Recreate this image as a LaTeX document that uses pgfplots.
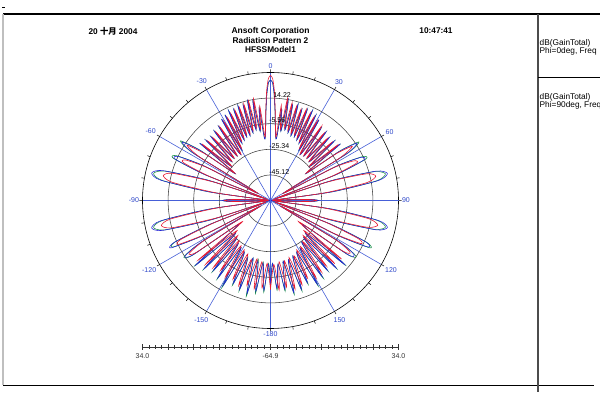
\documentclass[border=0pt]{standalone}
\usepackage{pgfplots}
\pgfplotsset{compat=1.18}
\usepackage{pgfplotstable}
\usepgfplotslibrary{polar}
\usepackage{fontspec}
\setmainfont{Liberation Sans}
\newfontfamily\cjk{Noto Sans CJK SC}
\definecolor{spoke}{RGB}{70,95,215}
\definecolor{lbl}{RGB}{45,70,200}
\definecolor{cred}{RGB}{230,25,50}
\definecolor{cblue}{RGB}{35,35,215}
\definecolor{cgreen}{RGB}{20,140,70}

% Phi = 0deg (red): angle (deg, 0 = top, clockwise), gain (dB)
\pgfplotstableread{
a d
-180 3.87
-177 -16.22
-174.5 3.09
-172 -17.0
-169.5 4.64
-167 -18.54
-164.5 3.09
-162 -17.0
-159.5 5.41
-157 -20.09
-154.5 2.32
-152 -21.63
-149.5 3.87
-147 -23.18
-144.5 1.55
-142 -25.49
-139.5 3.09
-137 -27.81
-134.5 5.41
-132 -30.13
-129.5 7.73
-127 -37.86
-125 4.64
-123 10.05
-121 -6.95
-119 -55.63
-117.5 -10.81
-115.5 13.91
-113.5 10.82
-111.5 -18.54
-110 -61.04
-108 -22.40
-105.5 13.91
-103 21.64
-100.5 13.91
-98 -22.40
-96 -62.58
-93 -55.63
-91.5 -35.54
-90 -29.36
-88.5 -35.54
-87 -55.63
-84 -62.58
-82 -22.40
-79.5 12.37
-77 20.09
-74.5 13.91
-72 -18.54
-70 -61.04
-68.5 -14.68
-66.5 8.50
-64.5 7.73
-62.5 -10.81
-60.5 -53.31
-58.5 -1.54
-56.5 12.37
-54.5 -3.09
-52.5 -30.13
-50.5 3.87
-48.5 -24.72
-46.5 1.55
-44.5 -22.40
-42.5 0.78
-40.5 -21.63
-38.5 2.32
-36.5 -21.63
-34.5 3.87
-32.5 -22.40
-30.5 5.41
-29 -18.54
-27.5 6.96
-26 -13.90
-24.5 8.50
-23 -12.36
-21.5 10.05
-20 -10.81
-18.5 10.82
-17 -10.81
-15.5 12.37
-14 -9.27
-12.5 13.91
-11 -7.72
-9.5 14.68
-8 -9.27
-6.5 8.50
-5 -15.45
-4 -9.27
-3 4.64
-2 20.09
-1 29.36
0 31.68
1 29.36
2 20.09
3 4.64
4 -9.27
5 -15.45
6.5 9.28
8 -9.27
9.5 15.46
11 -7.72
12.5 12.37
14 -9.27
15.5 10.82
17 -10.81
18.5 9.28
20 -10.81
21.5 10.82
23 -12.36
24.5 9.28
26 -13.90
27.5 7.73
29 -18.54
30.5 6.18
32.5 -22.40
34.5 4.64
36.5 -21.63
38.5 1.55
40.5 -21.63
42.5 0.0
44.5 -22.40
46.5 0.0
48.5 -24.72
50.5 3.09
52.5 -30.13
54.5 -3.09
56.5 10.82
58.5 -3.09
60.5 -53.31
62.5 -10.81
64.5 6.18
66.5 7.73
68.5 -14.68
70 -61.04
72 -18.54
74.5 12.37
77 18.55
79.5 10.82
82 -22.40
84 -62.58
87 -55.63
88.5 -35.54
90 -29.36
91.5 -35.54
93 -55.63
96 -62.58
98 -22.40
100.5 12.37
103 20.09
105.5 12.37
108 -22.40
110 -61.04
111.5 -18.54
113.5 9.28
115.5 12.37
117.5 -10.81
119 -55.63
121 -6.95
123 8.50
125 3.09
127 -37.86
129.5 6.18
132 -30.13
134.5 4.64
137 -27.81
139.5 1.55
142 -24.72
144.5 3.09
147 -22.40
149.5 4.64
152 -21.63
154.5 1.55
157 -18.54
159.5 4.64
162 -18.54
164.5 6.18
167 -17.0
169.5 3.09
172 -17.0
174.5 4.64
177 -15.45
180 3.87
}\redtab

% Phi = 90deg (blue)
\pgfplotstableread{
a d
-180 1.55
-178.2 -15.45
-175.8 4.64
-173.2 -16.22
-170.8 6.18
-168.2 -17.0
-165.8 9.28
-163.2 -18.54
-160.8 7.73
-158.2 -17.0
-155.8 5.41
-153.2 -20.09
-150.8 10.05
-148.2 -21.63
-145.8 6.96
-143.2 -23.18
-140.8 4.64
-138.2 -25.49
-135.8 8.50
-133.2 -27.81
-130.8 11.59
-127 -34.0
-125 8.50
-123 13.91
-121 -3.09
-119 -55.63
-117.5 -7.72
-115.5 20.09
-113.5 16.23
-111.5 -14.68
-110 -61.04
-108 -17.0
-105.5 21.64
-103 29.36
-100.5 21.64
-98 -17.0
-96 -62.58
-93 -55.63
-91.5 -34.0
-90 -27.81
-88.5 -34.0
-87 -55.63
-84 -62.58
-82 -17.0
-79.5 21.64
-77 29.36
-74.5 21.64
-72 -14.68
-70 -61.04
-68.5 -10.81
-66.5 15.46
-64.5 13.91
-62.5 -7.72
-60.5 -53.31
-58.5 3.87
-56.5 17.0
-54.5 0.78
-52.8 -30.13
-51 5.41
-49 -24.72
-47 3.09
-45 -22.40
-43 2.32
-41 -21.63
-39 3.87
-37 -21.63
-35 4.64
-33 -22.40
-31 8.50
-29.5 -20.09
-28 10.05
-26.5 -15.45
-25 11.59
-23.5 -13.90
-22 10.82
-20.5 -12.36
-19 12.37
-17.5 -12.36
-16 11.59
-14.5 -10.81
-13 13.91
-11.5 -9.27
-10 13.14
-8.5 -10.81
-7 6.96
-5.5 -17.0
-4 -10.81
-3 3.09
-2 17.0
-1 26.27
0 27.82
1 26.27
2 17.0
3 3.09
4 -10.81
5.5 -17.0
7 6.18
8.5 -10.81
10 13.91
11.5 -9.27
13 10.82
14.5 -10.81
16 12.37
17.5 -12.36
19 9.28
20.5 -12.36
22 10.82
23.5 -13.90
25 11.59
26.5 -15.45
28 9.28
29.5 -20.09
31 7.73
33 -22.40
35 3.09
37 -21.63
39 3.09
41 -21.63
43 1.55
45 -22.40
47 2.32
49 -24.72
51 4.64
52.8 -30.13
54.5 0.0
56.5 15.46
58.5 3.09
60.5 -53.31
62.5 -7.72
64.5 12.37
66.5 13.91
68.5 -10.81
70 -61.04
72 -14.68
74.5 20.09
77 27.82
79.5 20.09
82 -17.0
84 -62.58
87 -55.63
88.5 -34.0
90 -27.81
91.5 -34.0
93 -55.63
96 -62.58
98 -17.0
100.5 20.09
103 27.82
105.5 20.09
108 -17.0
110 -61.04
111.5 -14.68
113.5 15.46
115.5 18.55
117.5 -7.72
119 -55.63
121 -3.09
123 12.37
125 7.73
127 -34.0
130.8 10.82
133.2 -27.81
135.8 7.73
138.2 -26.27
140.8 4.64
143.2 -24.72
145.8 6.18
148.2 -21.63
150.8 9.28
153.2 -20.09
155.8 4.64
158.2 -18.54
160.8 7.73
163.2 -17.0
165.8 8.50
168.2 -17.0
170.8 4.64
173.2 -15.45
175.8 3.09
178.2 -16.22
180 1.55
}\bluetab

% third trace (green)
\pgfplotstableread{
a d
-180 3.09
-178.2 -16.22
-175.8 6.18
-173.2 -17.0
-170.8 7.73
-168.2 -18.54
-165.8 11.59
-163.2 -18.54
-160.8 9.28
-158.2 -17.77
-155.8 6.96
-153.2 -20.09
-150.8 12.37
-148.2 -21.63
-145.8 8.50
-143.2 -23.18
-140.8 6.18
-138.2 -25.49
-135.8 9.28
-133.2 -27.81
-130.8 12.37
-127 -34.0
-125 9.28
-123 14.68
-121 -3.09
-119 -55.63
-117.5 -7.72
-115.5 18.55
-113.5 15.46
-111.5 -14.68
-110 -61.04
-108 -17.0
-105.5 20.09
-103 27.82
-100.5 20.09
-98 -17.0
-96 -62.58
-93 -55.63
-91.5 -34.0
-90 -27.81
-88.5 -34.0
-87 -55.63
-84 -62.58
-82 -17.0
-79.5 20.09
-77 27.82
-74.5 20.09
-72 -14.68
-70 -61.04
-68.5 -10.81
-66.5 17.0
-64.5 15.46
-62.5 -7.72
-60.5 -53.31
-58.5 5.41
-56.5 18.55
-54.5 2.32
-52.8 -30.13
-51 5.41
-49 -24.72
-47 3.09
-45 -22.40
-43 2.32
-41 -21.63
-39 3.87
-37 -21.63
-35 4.64
-33 -22.40
-31 8.50
-29.5 -20.09
-28 10.05
-26.5 -15.45
-25 11.59
-23.5 -13.90
-22 10.82
-20.5 -12.36
-19 12.37
-17.5 -12.36
-16 11.59
-14.5 -10.81
-13 13.91
-11.5 -9.27
-10 13.14
-8.5 -10.81
-7 6.96
-5.5 -17.0
-4 -10.81
-3 3.09
-2 17.0
-1 26.27
0 27.82
1 26.27
2 17.0
3 3.09
4 -10.81
5.5 -17.0
7 6.18
8.5 -10.81
10 13.91
11.5 -9.27
13 10.82
14.5 -10.81
16 12.37
17.5 -12.36
19 9.28
20.5 -12.36
22 10.82
23.5 -13.90
25 11.59
26.5 -15.45
28 9.28
29.5 -20.09
31 7.73
33 -22.40
35 3.09
37 -21.63
39 3.09
41 -21.63
43 1.55
45 -22.40
47 2.32
49 -24.72
51 4.64
52.8 -30.13
54.5 1.55
56.5 17.0
58.5 4.64
60.5 -53.31
62.5 -7.72
64.5 13.91
66.5 15.46
68.5 -10.81
70 -61.04
72 -14.68
74.5 18.55
77 26.27
79.5 18.55
82 -17.0
84 -62.58
87 -55.63
88.5 -34.0
90 -27.81
91.5 -34.0
93 -55.63
96 -62.58
98 -17.0
100.5 18.55
103 26.27
105.5 18.55
108 -17.0
110 -61.04
111.5 -14.68
113.5 16.23
115.5 20.09
117.5 -7.72
119 -55.63
121 -3.09
123 13.91
125 8.50
127 -34.0
130.8 11.59
133.2 -27.81
135.8 8.50
138.2 -26.27
140.8 5.41
143.2 -24.72
145.8 7.73
148.2 -21.63
150.8 10.82
153.2 -20.09
155.8 6.18
158.2 -18.54
160.8 9.28
163.2 -17.0
165.8 10.05
168.2 -17.0
170.8 6.18
173.2 -15.45
175.8 4.64
178.2 -16.22
180 3.09
}\greentab

\begin{document}
\begin{tikzpicture}
\useasboundingbox (0pt,0pt) rectangle (600pt,395pt);
\begin{scope}[x=1pt,y=1pt]
  % frame
  \draw[line width=1.5pt] (3,381) -- (600,381);
  \draw[black!25,line width=1.5pt] (3,381) -- (3,10);
  \draw[line width=0.9pt] (3,10) -- (594,10);
  \draw[black!70,line width=1.1pt] (538,381) -- (538,3);
  \draw[line width=0.8pt] (538,318) -- (600,318);
  \draw[line width=0.8pt] (2,388) -- (5,388);
  % header
  \node[font=\bfseries\fontsize{8.3}{9}\selectfont] at (113,364) {20 {\cjk 十月} 2004};
  \node[font=\bfseries\fontsize{8.5}{9}\selectfont] at (270.5,364) {Ansoft Corporation};
  \node[font=\bfseries\fontsize{8.3}{9}\selectfont] at (270.5,354.5) {Radiation Pattern 2};
  \node[font=\bfseries\fontsize{8.3}{9}\selectfont] at (270.5,345) {HFSSModel1};
  \node[font=\bfseries\fontsize{8.3}{9}\selectfont] at (436,364) {10:47:41};
  % legend panel
  \begin{scope}
    \clip (538.6,0) rectangle (600,381);
    \node[anchor=west,inner sep=0pt,font=\fontsize{8.3}{9}\selectfont] at (539.5,352) {dB(GainTotal)};
    \node[anchor=west,inner sep=0pt,font=\fontsize{8.3}{9}\selectfont] at (539.5,343.5) {Phi=0deg, Freq};
    \node[anchor=west,inner sep=0pt,font=\fontsize{8.3}{9}\selectfont] at (539.5,298) {dB(GainTotal)};
    \node[anchor=west,inner sep=0pt,font=\fontsize{8.3}{9}\selectfont] at (539.5,289.5) {Phi=90deg, Freq};
  \end{scope}
  % radial scale bar
  \draw[black!80,line width=0.6pt] (142.5,48) -- (398.5,48);
  \foreach \k in {0,...,40} {
    \draw[black!80,line width=0.5pt] ({142.5+6.4*\k},46.2) -- ({142.5+6.4*\k},49.8);
  }
  \foreach \k in {0,...,10} {
    \draw[black!80,line width=0.5pt] ({142.5+25.6*\k},45) -- ({142.5+25.6*\k},51);
  }
  \node[font=\fontsize{7}{8}\selectfont,text=black!80] at (142.5,38.5) {34.0};
  \node[font=\fontsize{7}{8}\selectfont,text=black!80] at (270.5,38.5) {-64.9};
  \node[font=\fontsize{7}{8}\selectfont,text=black!80] at (398.5,38.5) {34.0};
\end{scope}

\begin{polaraxis}[
  at={(270.5pt,194.5pt)}, anchor=center,
  scale only axis, width=256pt, height=256pt,
  xmin=0, xmax=360, ymin=0, ymax=98.9,
  x filter/.expression={90-x},
  y filter/.expression={y+64.9},
  xtick={0,30,...,330},
  xticklabels={90,60,30,0,-30,-60,-90,-120,-150,-180,150,120},
  minor x tick num=2,
  xtick align=inside,
  major tick length=3pt, minor tick length=3pt,
  tick style={black, line width=0.5pt},
  ytick={19.78,39.56,59.34,79.12},
  yticklabels={},
  ytick style={draw=none},
  grid=major,
  major x grid style={spoke, line width=0.6pt},
  major y grid style={black!75, line width=0.55pt},
  separate axis lines,
  x axis line style={black, line width=0.6pt},
  y axis line style={spoke, line width=0.6pt},
  xticklabel style={font=\fontsize{7}{8}\selectfont, text=lbl},
  clip=false,
]
\addplot[cgreen, line width=0.55pt, smooth, tension=0.4, no markers] table[x=a,y=d]{\greentab};
\addplot[cblue, line width=0.55pt, smooth, tension=0.4, no markers] table[x=a,y=d]{\bluetab};
\addplot[cred, line width=0.6pt, smooth, tension=0.4, no markers] table[x=a,y=d]{\redtab};
\end{polaraxis}

\begin{scope}[x=1pt,y=1pt]
  \node[anchor=south west,inner sep=0.6pt,font=\fontsize{7}{8}\selectfont] at (268.5,220.1) {-45.12};
  \node[anchor=south west,inner sep=0.6pt,font=\fontsize{7}{8}\selectfont] at (268.5,245.7) {-25.34};
  \node[anchor=south west,inner sep=0.6pt,font=\fontsize{7}{8}\selectfont] at (268.5,271.3) {-5.56};
  \node[anchor=south west,inner sep=0.6pt,font=\fontsize{7}{8}\selectfont] at (272.5,296.9) {14.22};
\end{scope}
\end{tikzpicture}
\end{document}
